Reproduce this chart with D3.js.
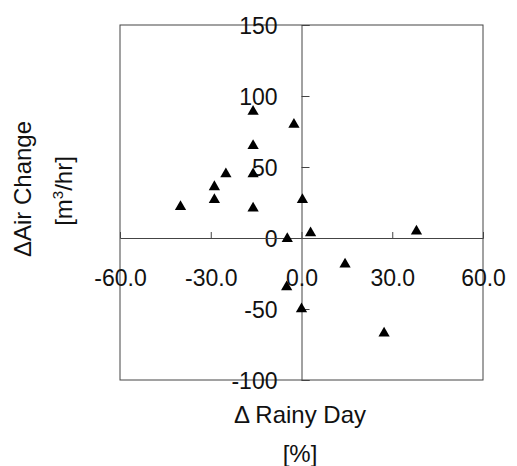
<!DOCTYPE html>
<html>
<head>
<meta charset="utf-8">
<script src="https://cdn.jsdelivr.net/npm/d3@7"></script>
<style>
  body { margin: 0; background: #fff; }
  text { font-family: "Liberation Sans", Arial, sans-serif; fill: #111; }
</style>
</head>
<body>
<div id="chart"></div>
<script>
// Δ Rainy Day [%] vs Δ Air Change [m3/hr]
const rainyDay  = [-16, -2.5, -16, -25, -16, -28.8, -28.8, -40, -16, 0.3, 3, 38, -4.7, 14.4, -4.9, 0, 27.3];
const airChange = [89, 80, 65, 45, 45, 36, 27, 22, 21, 27, 3.5, 4.7, -0.5, -18.5, -34.5, -50, -67];
const xTicks = [-60, -30, 0, 30, 60];
const yTicks = [-100, -50, 0, 50, 100, 150];

const width = 517, height = 466;
const margin = {top: 25, right: 34, bottom: 86, left: 120};

const svg = d3.select("#chart").append("svg")
    .attr("width", width)
    .attr("height", height);

const x = d3.scaleLinear().domain([-60, 60]).range([margin.left, width - margin.right]);
const y = d3.scaleLinear().domain([-100, 150]).range([height - margin.bottom, margin.top]);

const lineColor = "#444";
// plain hyphen for negatives, like the original figure
const fmtX = d => d3.format(".1f")(d).replace("\u2212", "-");
const fmtY = d => d3.format("d")(d).replace("\u2212", "-");

// plot box
svg.append("rect")
    .attr("x", x(-60))
    .attr("y", y(150))
    .attr("width", x(60) - x(-60))
    .attr("height", y(-100) - y(150))
    .attr("fill", "none")
    .attr("stroke", lineColor)
    .attr("stroke-width", 1);

// y axis through x = 0, ticks pointing right, labels on the left
const yAxis = d3.axisRight(y)
    .tickValues(yTicks)
    .tickSize(8)
    .tickFormat(fmtY);

const gy = svg.append("g")
    .attr("transform", "translate(" + x(0) + ",0)")
    .call(yAxis);
gy.select(".domain").attr("stroke", lineColor);
gy.selectAll(".tick line").attr("stroke", lineColor);
gy.selectAll(".tick text")
    .attr("x", -24)
    .attr("dy", "0.35em")
    .style("text-anchor", "end")
    .style("font-size", "23px")
    .attr("fill", "#111");

// x axis through y = 0, ticks pointing up, labels below
const xAxis = d3.axisTop(x)
    .tickValues(xTicks)
    .tickSize(6)
    .tickFormat(fmtX);

const gx = svg.append("g")
    .attr("transform", "translate(0," + y(0) + ")")
    .call(xAxis);
gx.select(".domain").attr("stroke", lineColor);
gx.selectAll(".tick line").attr("stroke", lineColor);
gx.selectAll(".tick text")
    .attr("y", 48)
    .attr("dy", null)
    .style("font-size", "23px")
    .attr("fill", "#111");

// points
svg.append("g").selectAll("path")
    .data(rainyDay.map((d, i) => ({x: d, y: airChange[i]})))
    .enter().append("path")
    .attr("transform", d => "translate(" + x(d.x) + "," + y(d.y) + ")")
    .attr("d", d3.symbol().type(d3.symbolTriangle).size(55))
    .attr("fill", "#000");

// x axis title
svg.append("text")
    .attr("x", 300)
    .attr("y", 423)
    .style("text-anchor", "middle")
    .style("font-size", "24px")
    .text("Δ Rainy Day");

svg.append("text")
    .attr("x", 300)
    .attr("y", 462)
    .style("text-anchor", "middle")
    .style("font-size", "24px")
    .text("[%]");

// y axis title
svg.append("text")
    .attr("transform", "translate(31,189) rotate(-90)")
    .style("text-anchor", "middle")
    .style("font-size", "24px")
    .text("ΔAir Change");

const yUnit = svg.append("text")
    .attr("transform", "translate(72,191) rotate(-90)")
    .style("text-anchor", "middle")
    .style("font-size", "24px");
yUnit.append("tspan").text("[m");
yUnit.append("tspan").attr("dy", -9).style("font-size", "15px").text("3");
yUnit.append("tspan").attr("dy", 9).text("/hr]");
</script>
</body>
</html>
